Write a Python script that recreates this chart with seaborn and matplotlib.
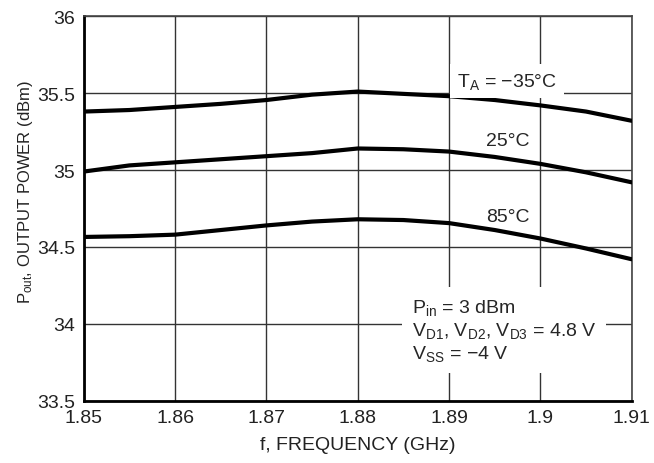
import pandas as pd
import matplotlib.pyplot as plt
import seaborn as sns

# Frequency points (GHz) and output power (dBm)
freq = [1.85, 1.855, 1.86, 1.865, 1.87, 1.875, 1.88, 1.885, 1.89, 1.895, 1.9, 1.905, 1.91]
pout_m35 = [35.38, 35.39, 35.41, 35.43, 35.455, 35.49, 35.51, 35.495, 35.48, 35.455, 35.42, 35.38, 35.32]
pout_25 = [34.99, 35.03, 35.05, 35.07, 35.09, 35.11, 35.14, 35.135, 35.12, 35.085, 35.04, 34.985, 34.92]
pout_85 = [34.565, 34.57, 34.58, 34.61, 34.64, 34.665, 34.68, 34.675, 34.655, 34.61, 34.555, 34.49, 34.42]

x_ticks = [1.85, 1.86, 1.87, 1.88, 1.89, 1.9, 1.91]
x_labels = ['1.85', '1.86', '1.87', '1.88', '1.89', '1.9', '1.91']
y_ticks = [33.5, 34, 34.5, 35, 35.5, 36]
y_labels = ['33.5', '34', '34.5', '35', '35.5', '36']

df = pd.DataFrame({
    'freq': freq * 3,
    'pout': pout_m35 + pout_25 + pout_85,
    'temp': ['-35'] * len(freq) + ['25'] * len(freq) + ['85'] * len(freq),
})

sns.set_style('white')
plt.rcParams['font.family'] = ['Liberation Sans', 'DejaVu Sans']
plt.rcParams['mathtext.default'] = 'regular'

fs = 14
fig, ax = plt.subplots(figsize=(6.54, 4.64), dpi=100)
fig.subplots_adjust(left=0.128, right=0.966, top=0.963, bottom=0.134)

sns.lineplot(data=df, x='freq', y='pout', hue='temp',
             palette=['black', 'black', 'black'], linewidth=3,
             legend=False, ax=ax, zorder=3)

ax.set_xlim(1.85, 1.91)
ax.set_ylim(33.5, 36)
ax.set_xticks(x_ticks)
ax.set_xticklabels(x_labels)
ax.set_yticks(y_ticks)
ax.set_yticklabels(y_labels)
ax.tick_params(axis='both', labelsize=fs, length=0, colors='#222222')
ax.tick_params(axis='x', pad=6)
ax.tick_params(axis='y', pad=6)
ax.grid(True, color='#333333', linewidth=1)

for side in ['top', 'right']:
    ax.spines[side].set_color('#444444')
    ax.spines[side].set_linewidth(1.2)
for side in ['left', 'bottom']:
    ax.spines[side].set_color('black')
    ax.spines[side].set_linewidth(2)

ax.set_xlabel('f, FREQUENCY (GHz)', fontsize=fs, color='#222222', labelpad=7)
ax.set_ylabel('$P_{out}$, OUTPUT POWER (dBm)', fontsize=12, color='#222222')
ax.yaxis.set_label_coords(-0.088, 0.545)

# curve labels
ax.text(1.8963, 35.578, '$T_A$ = \u221235\u00b0C', fontsize=fs, ha='center', va='center',
        bbox=dict(facecolor='white', edgecolor='none', pad=5), zorder=4)
ax.text(1.8964, 35.195, '25\u00b0C', fontsize=fs, ha='center', va='center', zorder=4)
ax.text(1.8964, 34.70, '85\u00b0C', fontsize=fs, ha='center', va='center', zorder=4)

# conditions box
ax.text(1.8859, 33.745, '$P_{in}$ = 3 dBm\n$V_{D1}$, $V_{D2}$, $V_{D3}$ = 4.8 V\n$V_{SS}$ = \u22124 V',
        fontsize=fs, ha='left', va='bottom', linespacing=1.2,
        bbox=dict(facecolor='white', edgecolor='none', pad=7), zorder=4)

fig.savefig('out.png', dpi=100)
